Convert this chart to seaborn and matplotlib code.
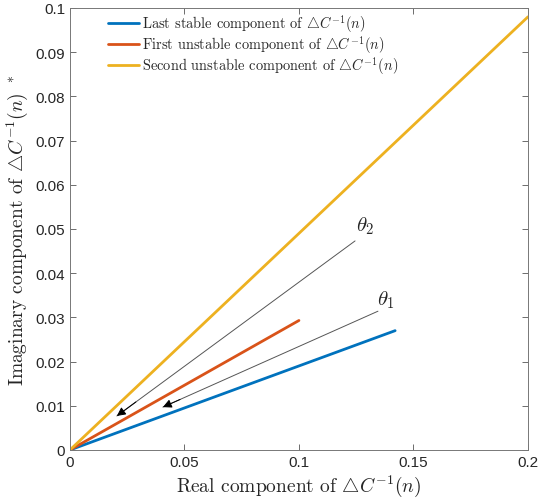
import numpy as np
import pandas as pd
import matplotlib
matplotlib.use("Agg")
import matplotlib.pyplot as plt
import seaborn as sns

# endpoints of each component (each line starts at the origin)
series_names = [
    r"Last stable component of $\bigtriangleup C^{-1}(n)$",
    r"First unstable component of $\bigtriangleup C^{-1}(n)$",
    r"Second unstable component of $\bigtriangleup C^{-1}(n)$",
]
real_end = [0.142, 0.100, 0.200]
imag_end = [0.027, 0.0293, 0.098]
colors = ["#0072BD", "#D95319", "#EDB120"]

# angle annotations: label, tail (x, y), head (x, y)
theta_labels = [r"$\theta_2$", r"$\theta_1$"]
theta_tail = [(0.1245, 0.0473), (0.1345, 0.0314)]
theta_head = [(0.0205, 0.0077), (0.0406, 0.0097)]
theta_text = [(0.1250, 0.0484), (0.1340, 0.0316)]

rows = []
for name, xe, ye in zip(series_names, real_end, imag_end):
    rows.append({"re": 0.0, "im": 0.0, "series": name})
    rows.append({"re": xe, "im": ye, "series": name})
df = pd.DataFrame(rows)

sns.set_style("ticks")
plt.rcParams["mathtext.fontset"] = "cm"
plt.rcParams["font.family"] = ["Liberation Sans", "DejaVu Sans"]

fig = plt.figure(figsize=(5.46, 5.02), dpi=100)
ax = fig.add_axes([0.128, 0.1016, 0.839, 0.8805])

sns.lineplot(data=df, x="re", y="im", hue="series", palette=colors,
             sort=False, linewidth=2, ax=ax, legend=False)

for lab, tail, head, txt in zip(theta_labels, theta_tail, theta_head, theta_text):
    # thin gray shaft
    ax.annotate("", xy=head, xytext=tail,
                arrowprops=dict(arrowstyle="-", color="#555555", lw=0.7,
                                shrinkA=0, shrinkB=0))
    # black head
    hx = head[0] + 0.08 * (tail[0] - head[0])
    hy = head[1] + 0.08 * (tail[1] - head[1])
    ax.annotate("", xy=head, xytext=(hx, hy),
                arrowprops=dict(arrowstyle="-|>", color="black", lw=0.7,
                                mutation_scale=13, shrinkA=0, shrinkB=0))
    ax.text(txt[0], txt[1], lab, fontsize=15, ha="left", va="bottom")

ax.set_xlim(0, 0.2)
ax.set_ylim(0, 0.1)
ax.set_xticks([0, 0.05, 0.1, 0.15, 0.2])
ax.set_xticklabels(["0", "0.05", "0.1", "0.15", "0.2"])
ax.set_yticks(np.arange(0, 0.1001, 0.01))
ax.set_yticklabels(["0"] + [f"{v:.2f}" for v in np.arange(0.01, 0.1, 0.01)] + ["0.1"])
ax.tick_params(direction="in", top=True, right=True, labelsize=11,
               color="#555555", length=4, width=0.6)
for s in ax.spines.values():
    s.set_color("#777777")
    s.set_linewidth(0.7)

ax.set_xlabel(r"Real component of $\bigtriangleup C^{-1}(n)$", fontsize=14,
              family="cmr10", labelpad=3)
ax.set_ylabel(r"Imaginary component of $\bigtriangleup C^{-1}(n)$ $^*$", fontsize=14,
              family="cmr10", labelpad=4)

handles = [plt.Line2D([], [], color=c, lw=2) for c in colors]
ax.legend(handles, series_names, loc="upper left", frameon=False,
          prop={"family": "cmr10", "size": 10.4},
          handlelength=2.2, handletextpad=0.15, labelspacing=-0.05,
          bbox_to_anchor=(0.073, 1.0), borderaxespad=0.0, borderpad=0.3)

fig.savefig("out.png", dpi=100)
